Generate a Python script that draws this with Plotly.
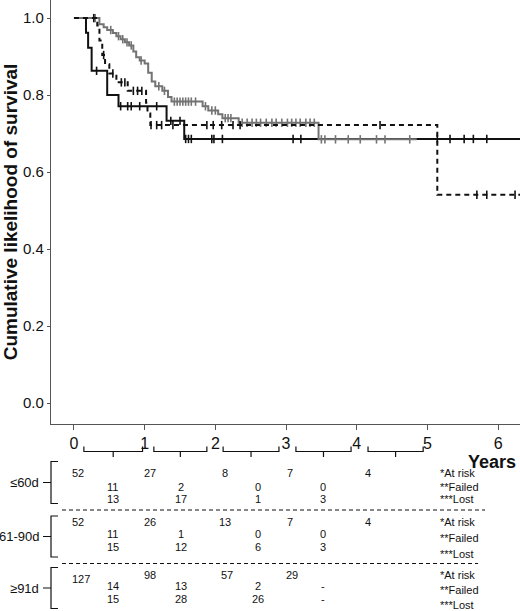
import plotly.graph_objects as go

## survival curves: event times (years) and survival after each step
solid_t = [0.17, 0.20, 0.25, 0.47, 0.63, 1.31, 1.56]
solid_s = [0.962, 0.923, 0.863, 0.800, 0.771, 0.733, 0.686]
solid_cens = [0.32, 0.66, 0.76, 0.81, 0.93, 1.17, 1.37, 1.50, 1.58, 1.62, 1.66,
              1.95, 1.98, 2.10, 3.10, 3.21, 5.14, 5.32, 5.52, 5.65, 5.84]

dash_t = [0.33, 0.36, 0.40, 0.44, 0.50, 0.60, 0.76, 1.02, 1.04, 1.08, 5.14]
dash_s = [0.981, 0.942, 0.904, 0.880, 0.856, 0.833, 0.811, 0.780, 0.752, 0.722, 0.541]
dash_cens = [0.28, 0.42, 0.55, 0.67, 0.72, 0.84, 0.90, 0.96, 1.09, 1.17, 1.24,
             1.40, 1.88, 1.97, 2.09, 2.25, 2.35, 4.33, 5.70, 5.84, 6.24]

gray_t = [0.36, 0.42, 0.47, 0.55, 0.60, 0.66, 0.72, 0.78, 0.84, 0.88, 0.93, 1.00,
          1.05, 1.10, 1.15, 1.25, 1.33, 1.38, 1.82, 1.90, 2.04, 2.10, 2.33, 3.46]
gray_s = [0.984, 0.976, 0.969, 0.961, 0.953, 0.945, 0.937, 0.929, 0.913, 0.898,
          0.890, 0.882, 0.858, 0.835, 0.823, 0.811, 0.795, 0.783, 0.771, 0.760,
          0.750, 0.740, 0.728, 0.685]
gray_cens = [0.30, 0.52, 0.63, 0.69, 0.75, 0.81, 0.95, 1.20, 1.28, 1.42, 1.46,
             1.50, 1.54, 1.58, 1.62, 1.66, 1.72, 1.86, 1.95, 2.00, 2.14, 2.18,
             2.22, 2.38, 2.45, 2.52, 2.58, 2.64, 2.72, 2.80, 2.86, 2.94, 3.02,
             3.08, 3.14, 3.20, 3.28, 3.34, 3.40, 3.50, 3.55, 3.70, 3.88, 4.05,
             4.28, 4.40, 4.75]
gray_end = 4.85
t_end = 6.31

## numbers at risk table
groups = ['≤60d', '61-90d', '≥91d']
at_risk = [['52', '27', '8', '7', '4'],
           ['52', '26', '13', '7', '4'],
           ['127', '98', '57', '29']]
failed = [['11', '2', '0', '0'],
          ['11', '1', '0', '0'],
          ['14', '13', '2', '-']]
lost = [['13', '17', '1', '3'],
        ['15', '12', '6', '3'],
        ['15', '28', '26', '-']]
row_labels = ['*At risk', '**Failed', '***Lost']

params = dict(
    width=520, height=611,
    plot_top=0, plot_bottom=424, plot_left=51,
    black='#111111', gray='#737373', axis='#555555',
    font='Liberation Sans',
    )


def step_xy(times, surv, end):
    xs, ys = [0.0], [1.0]
    cur = 1.0
    for t, s in zip(times, surv):
        xs += [t, t]
        ys += [cur, s]
        cur = s
    xs.append(end)
    ys.append(cur)
    return xs, ys


def surv_at(times, surv, t0):
    cur = 1.0
    for t, s in zip(times, surv):
        if t <= t0:
            cur = s
    return cur


def py(pix):
    ## pixel row -> paper coordinate
    h = params['plot_bottom'] - params['plot_top']
    return (params['plot_bottom'] - pix) / h


def px(pix):
    ## pixel column -> paper coordinate
    w = params['width'] - params['plot_left']
    return (pix - params['plot_left']) / w


def add_curve(fig, times, surv, cens, end, color, dash, width):
    xs, ys = step_xy(times, surv, end)
    fig.add_trace(go.Scatter(x=xs, y=ys, mode='lines',
                             line=dict(color=color, dash=dash, width=width),
                             hoverinfo='skip', showlegend=False))
    fig.add_trace(go.Scatter(x=cens, y=[surv_at(times, surv, c) for c in cens],
                             mode='markers',
                             marker=dict(symbol='line-ns-open', size=6, color=color,
                                         line=dict(color=color, width=1.6)),
                             hoverinfo='skip', showlegend=False))


fig = go.Figure()
add_curve(fig, solid_t, solid_s, solid_cens, t_end, params['black'], 'solid', 2)
add_curve(fig, gray_t, gray_s, gray_cens, gray_end, params['gray'], 'solid', 2)
add_curve(fig, dash_t, dash_s, dash_cens, t_end, params['black'], '5px,4px', 2)

shapes, annotations = [], []

## braces under the time axis
brace_iv = [(0.14, 0.97), (1.13, 1.88), (2.11, 2.90), (3.14, 3.92), (4.16, 4.94)]
for a, b in brace_iv:
    mid = (a + b) / 2
    shapes.append(dict(type='path', xref='x', yref='paper',
                       path=f'M {a},{py(446.5)} L {a},{py(451.5)} L {b},{py(451.5)} L {b},{py(446.5)} '
                            f'M {mid},{py(451.5)} L {mid},{py(457)}',
                       line=dict(color=params['black'], width=1.2)))

annotations.append(dict(text='<b>Years</b>', x=px(518), y=py(462), xref='paper', yref='paper',
                        xanchor='right', yanchor='middle', showarrow=False,
                        font=dict(size=18, color=params['black'])))

## table rows
row_tops = [461.5, 516, 567.5]
row_bottoms = [503.5, 557, 608.5]
risk_y = [[472.5] * 5, [521.5] * 5, [579, 575, 575, 575]]
fail_y = [486.5, 534, 586]
lost_y = [499.5, 546.5, 598.5]
label_y = [[472.5, 486.5, 499.5], [522, 537.5, 553.5], [575, 590, 605]]
risk_x = [0.05, 1.07, 2.14, 3.05, 4.16]
mid_x = [0.55, 1.51, 2.60, 3.53]
risk_x_big = [0.10, 1.07, 2.17, 3.09]

for g in range(len(groups)):
    top, bot = row_tops[g], row_bottoms[g]
    midp = (top + bot) / 2
    shapes.append(dict(type='path', xref='paper', yref='paper',
                       path=f'M {px(58)},{py(top)} L {px(51)},{py(top)} L {px(51)},{py(bot)} '
                            f'L {px(58)},{py(bot)} M {px(51)},{py(midp)} L {px(43)},{py(midp)}',
                       line=dict(color=params['black'], width=1.2)))
    annotations.append(dict(text=groups[g], x=px(41), y=py(midp), xref='paper', yref='paper',
                            xanchor='right', yanchor='middle', showarrow=False,
                            font=dict(size=13, color=params['black'])))
    xs_r = risk_x if g < 2 else risk_x_big
    for i, v in enumerate(at_risk[g]):
        annotations.append(dict(text=v, x=xs_r[i], y=py(risk_y[g][i]), xref='x', yref='paper',
                                xanchor='center', yanchor='middle', showarrow=False,
                                font=dict(size=11, color=params['black'])))
    for i, v in enumerate(failed[g]):
        annotations.append(dict(text=v, x=mid_x[i], y=py(fail_y[g]), xref='x', yref='paper',
                                xanchor='center', yanchor='middle', showarrow=False,
                                font=dict(size=11, color=params['black'])))
    for i, v in enumerate(lost[g]):
        annotations.append(dict(text=v, x=mid_x[i], y=py(lost_y[g]), xref='x', yref='paper',
                                xanchor='center', yanchor='middle', showarrow=False,
                                font=dict(size=11, color=params['black'])))
    for j, lab in enumerate(row_labels):
        annotations.append(dict(text=lab, x=px(438), y=py(label_y[g][j]),
                                xref='paper', yref='paper', xanchor='left', yanchor='middle',
                                showarrow=False, font=dict(size=11, color=params['black'])))

## dashed separators between groups
for sep_y, sep_r in [(510, 485), (563.5, 478)]:
    shapes.append(dict(type='line', xref='paper', yref='paper',
                       x0=px(62), x1=px(sep_r), y0=py(sep_y), y1=py(sep_y),
                       line=dict(color=params['black'], width=1.2, dash='4px,3px')))

fig.update_layout(
    width=params['width'], height=params['height'],
    margin=dict(l=params['plot_left'], r=0, t=params['plot_top'],
                b=params['height'] - params['plot_bottom']),
    plot_bgcolor='white', paper_bgcolor='white',
    font=dict(family=params['font'], color=params['black']),
    showlegend=False,
    shapes=shapes, annotations=annotations,
    xaxis=dict(range=[-0.325, t_end], tickvals=[0, 1, 2, 3, 4, 5, 6],
               showline=True, linecolor=params['axis'], linewidth=1.2,
               ticks='outside', ticklen=5, tickcolor=params['axis'],
               showgrid=False, zeroline=False, tickfont=dict(size=16)),
    yaxis=dict(range=[-0.0545, 1.047], tickvals=[0, 0.2, 0.4, 0.6, 0.8, 1.0],
               tickformat='.1f', showline=True, linecolor=params['axis'], linewidth=1.2,
               ticks='outside', ticklen=3, tickcolor=params['axis'],
               showgrid=False, zeroline=False, tickfont=dict(size=15),
               title=dict(text='<b>Cumulative likelihood of survival</b>',
                          font=dict(size=19), standoff=1)),
    )

## page body margin would push the figure off the window
fig.write_html('out.html', config={'displayModeBar': False},
               post_script="document.body.style.margin='0';document.body.style.overflow='hidden';")
